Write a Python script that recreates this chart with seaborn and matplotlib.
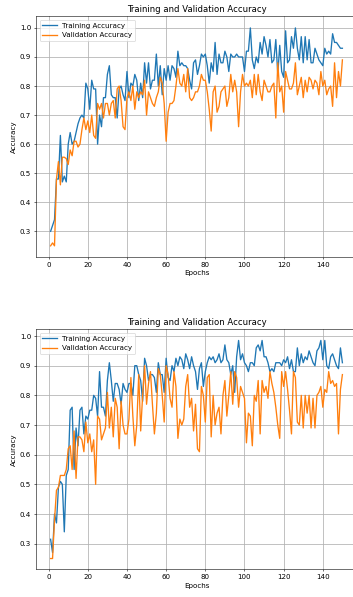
import numpy as np
import pandas as pd
import matplotlib
matplotlib.use("Agg")
import matplotlib.pyplot as plt
import seaborn as sns

epochs = list(range(1, 151))

train_acc_1 = [
    0.30, 0.32, 0.34, 0.48, 0.48, 0.63, 0.47, 0.49, 0.47, 0.60,
    0.64, 0.60, 0.61, 0.64, 0.67, 0.69, 0.70, 0.69, 0.81, 0.79,
    0.72, 0.82, 0.79, 0.79, 0.60, 0.70, 0.66, 0.76, 0.76, 0.84,
    0.87, 0.77, 0.76, 0.76, 0.69, 0.79, 0.80, 0.77, 0.75, 0.85,
    0.76, 0.81, 0.80, 0.84, 0.82, 0.75, 0.81, 0.76, 0.88, 0.81,
    0.88, 0.79, 0.82, 0.82, 0.91, 0.80, 0.87, 0.77, 0.86, 0.82,
    0.87, 0.82, 0.87, 0.86, 0.83, 0.92, 0.87, 0.88, 0.87, 0.87,
    0.86, 0.82, 0.79, 0.88, 0.89, 0.84, 0.87, 0.91, 0.90, 0.91,
    0.87, 0.81, 0.88, 0.85, 0.95, 0.84, 0.91, 0.88, 0.88, 0.92,
    0.90, 0.85, 0.91, 0.90, 0.90, 0.91, 0.90, 0.90, 0.90, 0.85,
    0.92, 0.92, 1.00, 0.89, 0.86, 0.90, 0.88, 0.95, 0.91, 0.97,
    0.94, 0.90, 0.96, 0.88, 0.89, 0.96, 0.84, 0.94, 0.85, 0.83,
    0.99, 0.88, 0.89, 0.97, 0.93, 1.00, 0.93, 0.89, 0.97, 0.88,
    0.97, 0.89, 0.96, 0.88, 0.88, 0.93, 0.91, 0.89, 0.88, 0.87,
    0.93, 0.91, 0.92, 0.91, 0.98, 0.95, 0.95, 0.94, 0.93, 0.93,
]

val_acc_1 = [
    0.25, 0.26, 0.25, 0.48, 0.54, 0.46, 0.555, 0.555, 0.55, 0.53,
    0.58, 0.56, 0.61, 0.61, 0.59, 0.60, 0.65, 0.69, 0.65, 0.68,
    0.64, 0.70, 0.63, 0.62, 0.74, 0.72, 0.74, 0.69, 0.74, 0.74,
    0.70, 0.74, 0.75, 0.69, 0.79, 0.80, 0.75, 0.66, 0.65, 0.76,
    0.78, 0.75, 0.80, 0.72, 0.78, 0.76, 0.78, 0.77, 0.82, 0.70,
    0.78, 0.76, 0.74, 0.73, 0.76, 0.78, 0.83, 0.81, 0.74, 0.61,
    0.71, 0.74, 0.74, 0.75, 0.80, 0.86, 0.81, 0.80, 0.84, 0.78,
    0.86, 0.76, 0.75, 0.76, 0.78, 0.78, 0.80, 0.84, 0.82, 0.82,
    0.78, 0.72, 0.645, 0.78, 0.80, 0.71, 0.73, 0.78, 0.79, 0.80,
    0.73, 0.76, 0.84, 0.78, 0.82, 0.78, 0.66, 0.78, 0.84, 0.80,
    0.81, 0.80, 0.82, 0.76, 0.84, 0.77, 0.84, 0.78, 0.75, 0.82,
    0.80, 0.78, 0.78, 0.80, 0.81, 0.69, 0.88, 0.78, 0.80, 0.71,
    0.85, 0.82, 0.79, 0.79, 0.81, 0.88, 0.77, 0.80, 0.83, 0.76,
    0.82, 0.78, 0.83, 0.82, 0.79, 0.82, 0.81, 0.77, 0.85, 0.80,
    0.82, 0.77, 0.79, 0.80, 0.73, 0.88, 0.76, 0.85, 0.80, 0.89,
]

train_acc_2 = [
    0.315, 0.27, 0.40, 0.37, 0.49, 0.51, 0.50, 0.34, 0.53, 0.55,
    0.75, 0.76, 0.55, 0.69, 0.63, 0.75, 0.76, 0.67, 0.73, 0.72,
    0.75, 0.75, 0.80, 0.79, 0.73, 0.88, 0.76, 0.76, 0.73, 0.85,
    0.91, 0.85, 0.78, 0.84, 0.84, 0.82, 0.77, 0.84, 0.82, 0.81,
    0.84, 0.84, 0.80, 0.90, 0.90, 0.87, 0.85, 0.78, 0.925, 0.90,
    0.85, 0.87, 0.87, 0.86, 0.81, 0.91, 0.87, 0.87, 0.81, 0.925,
    0.86, 0.85, 0.90, 0.88, 0.925, 0.90, 0.93, 0.92, 0.89, 0.94,
    0.92, 0.89, 0.93, 0.90, 0.88, 0.82, 0.89, 0.91, 0.83, 0.88,
    0.91, 0.93, 0.92, 0.93, 0.91, 0.92, 0.94, 0.91, 0.92, 0.97,
    0.92, 0.91, 0.87, 0.90, 0.81, 0.93, 0.985, 0.92, 0.94, 0.91,
    0.90, 0.88, 0.91, 0.91, 0.90, 0.96, 0.97, 0.95, 0.985, 0.93,
    0.93, 0.91, 0.88, 0.89, 0.88, 0.91, 0.91, 0.91, 0.90, 0.92,
    0.91, 0.93, 0.89, 0.92, 0.88, 0.88, 0.96, 0.90, 0.94, 0.91,
    0.93, 0.92, 0.95, 0.93, 0.91, 0.90, 0.95, 0.96, 0.985, 0.92,
    0.985, 0.90, 0.89, 0.93, 0.94, 0.92, 0.90, 0.89, 0.96, 0.91,
]

val_acc_2 = [
    0.25, 0.25, 0.38, 0.48, 0.49, 0.53, 0.53, 0.53, 0.55, 0.62,
    0.63, 0.55, 0.68, 0.52, 0.66, 0.66, 0.65, 0.61, 0.71, 0.64,
    0.67, 0.61, 0.65, 0.50, 0.73, 0.72, 0.65, 0.67, 0.69, 0.81,
    0.69, 0.76, 0.66, 0.79, 0.76, 0.62, 0.78, 0.70, 0.67, 0.67,
    0.72, 0.86, 0.73, 0.63, 0.70, 0.87, 0.68, 0.80, 0.90, 0.77,
    0.84, 0.88, 0.77, 0.67, 0.74, 0.89, 0.87, 0.80, 0.71, 0.90,
    0.87, 0.79, 0.76, 0.88, 0.83, 0.655, 0.72, 0.70, 0.72, 0.83,
    0.87, 0.76, 0.79, 0.68, 0.77, 0.62, 0.61, 0.83, 0.80, 0.71,
    0.86, 0.87, 0.66, 0.80, 0.70, 0.74, 0.76, 0.67, 0.80, 0.85,
    0.73, 0.80, 0.88, 0.77, 0.88, 0.86, 0.76, 0.83, 0.81, 0.79,
    0.64, 0.74, 0.73, 0.63, 0.80, 0.78, 0.85, 0.67, 0.85, 0.81,
    0.83, 0.79, 0.88, 0.84, 0.81, 0.76, 0.70, 0.655, 0.88, 0.83,
    0.88, 0.82, 0.75, 0.67, 0.88, 0.86, 0.71, 0.70, 0.80, 0.69,
    0.80, 0.74, 0.80, 0.69, 0.79, 0.69, 0.80, 0.81, 0.83, 0.76,
    0.82, 0.81, 0.88, 0.84, 0.85, 0.83, 0.84, 0.67, 0.82, 0.87,
]

title = "Training and Validation Accuracy"
xlabel = "Epochs"
ylabel = "Accuracy"
train_label = "Training Accuracy"
val_label = "Validation Accuracy"

plt.rcParams["font.size"] = 10.2
plt.rcParams["axes.titlesize"] = 12.2

fig = plt.figure(figsize=(7.06, 11.94), dpi=50)
ax1 = fig.add_axes([0.1020, 0.570, 0.9093, 0.4027])
ax2 = fig.add_axes([0.1020, 0.0464, 0.9093, 0.402])

panels = [
    (ax1, train_acc_1, val_acc_1, (0.2126, 1.040)),
    (ax2, train_acc_2, val_acc_2, (0.2137, 1.0226)),
]

for ax, tr, va, ylim in panels:
    df = pd.DataFrame({"epoch": epochs, "train": tr, "val": va})
    sns.lineplot(data=df, x="epoch", y="train", ax=ax, color="#1f77b4",
                 label=train_label, linewidth=1.9)
    sns.lineplot(data=df, x="epoch", y="val", ax=ax, color="#ff7f0e",
                 label=val_label, linewidth=1.9)
    ax.set_xlim(-6.45, 157.45)
    ax.set_ylim(*ylim)
    ax.set_xticks([0, 20, 40, 60, 80, 100, 120, 140])
    ax.set_yticks([0.3, 0.4, 0.5, 0.6, 0.7, 0.8, 0.9, 1.0])
    ax.set_title(title)
    ax.set_xlabel(xlabel)
    ax.set_ylabel(ylabel)
    ax.grid(True, linewidth=1.1)
    ax.legend(loc="upper left")

fig.savefig("out.png", dpi=50)
